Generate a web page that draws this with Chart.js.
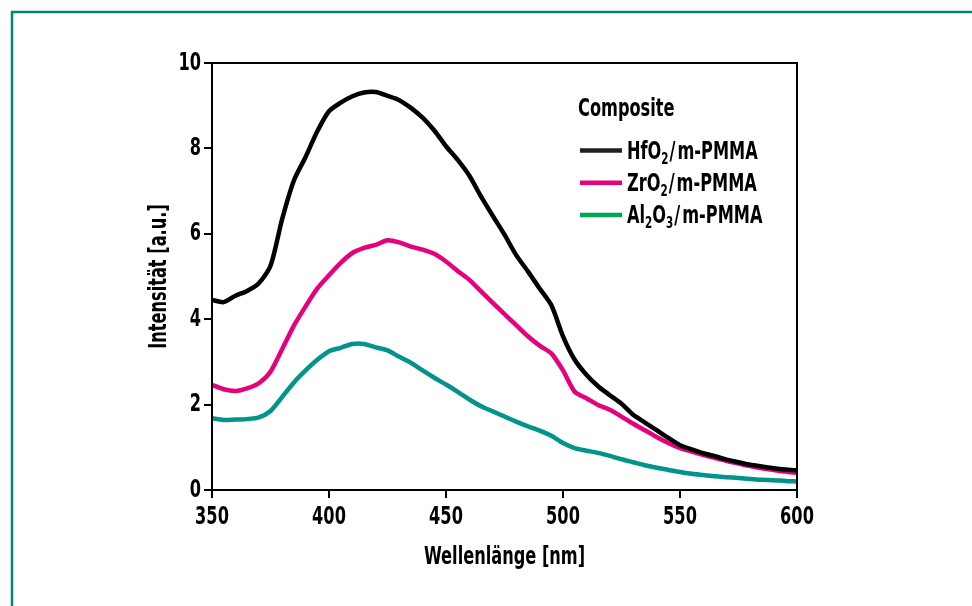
<!DOCTYPE html>
<html><head><meta charset="utf-8">
<script src="https://cdn.jsdelivr.net/npm/chart.js@4/dist/chart.umd.min.js"></script>
<style>html,body{margin:0;padding:0;background:#fff;}canvas{display:block;}</style>
</head><body>
<canvas id="c" width="972" height="606"></canvas>
<script>
// ---- data ----
const wavelengths = [350,355,360,365,370,375,380,385,390,395,400,405,410,415,420,425,430,435,440,445,450,455,460,465,470,475,480,485,490,495,500,505,510,515,520,525,530,535,540,545,550,555,560,565,570,575,580,585,590,595,600];
const hfo2 = [4.45,4.40,4.55,4.66,4.84,5.25,6.35,7.25,7.80,8.40,8.87,9.07,9.22,9.31,9.32,9.23,9.13,8.95,8.72,8.42,8.05,7.73,7.36,6.87,6.42,5.98,5.50,5.12,4.72,4.33,3.60,3.05,2.70,2.43,2.22,2.02,1.76,1.58,1.40,1.22,1.05,0.95,0.86,0.79,0.71,0.65,0.59,0.55,0.51,0.48,0.46];
const zro2 = [2.46,2.36,2.32,2.38,2.50,2.77,3.30,3.85,4.30,4.72,5.03,5.32,5.55,5.67,5.74,5.85,5.80,5.70,5.63,5.53,5.35,5.13,4.92,4.65,4.38,4.12,3.86,3.60,3.38,3.20,2.80,2.30,2.15,1.99,1.88,1.72,1.55,1.40,1.24,1.10,0.98,0.90,0.82,0.75,0.68,0.62,0.56,0.51,0.47,0.43,0.40];
const al2o3 = [1.68,1.64,1.65,1.66,1.70,1.85,2.18,2.52,2.80,3.05,3.25,3.33,3.42,3.42,3.34,3.27,3.12,2.98,2.80,2.63,2.47,2.30,2.12,1.96,1.84,1.72,1.60,1.49,1.39,1.27,1.10,0.98,0.92,0.87,0.80,0.72,0.65,0.58,0.52,0.47,0.42,0.38,0.35,0.32,0.30,0.28,0.26,0.24,0.23,0.21,0.20];
const seriesLabels = ['HfO₂/m-PMMA','ZrO₂/m-PMMA','Al₂O₃/m-PMMA'];
const legendTitle = 'Composite';
const xTitle = 'Wellenlänge [nm]';
const yTitle = 'Intensität [a.u.]';
const xTicks = [350,400,450,500,550,600];
const yTicks = [0,2,4,6,8,10];

// ---- styling ----
const FONT = '"Liberation Sans Narrow", "DejaVu Sans Condensed", "DejaVu Sans", sans-serif';
const SX = 0.72; // horizontal condensing of all text (reference uses a condensed face)
const lineColors = ['#000000','#e6007e','#00948a'];
const legendColors = ['#231f20','#e6007e','#00a651'];

Chart.defaults.font.family = FONT;
Chart.defaults.color = '#000';

const toPts = arr => wavelengths.map((w,i)=>({x:w,y:arr[i]}));

const condense = {
  id:'condense',
  beforeInit(chart){
    const c = chart.ctx;
    const orig = c.fillText.bind(c);
    c.fillText = function(t, x, y){
      c.save(); c.translate(x, y); c.scale(SX, 1); orig(t, 0, 0); c.restore();
    };
  }
};

const frame = {
  id:'frame',
  beforeDraw(chart){
    const c = chart.ctx;
    c.save();
    c.fillStyle='#fff'; c.fillRect(0,0,chart.width,chart.height);
    c.strokeStyle='#0e7f6c'; c.lineWidth=2.5;
    c.beginPath(); c.moveTo(12,chart.height); c.lineTo(12,12); c.lineTo(chart.width,12); c.stroke();
    c.restore();
  },
  afterDraw(chart){
    const a = chart.chartArea, c = chart.ctx;
    c.save(); c.strokeStyle='#000'; c.lineWidth=2;
    c.strokeRect(a.left, a.top, a.right-a.left, a.bottom-a.top);
    c.restore();
  }
};

const SUB = {'₀':'0','₁':'1','₂':'2','₃':'3','₄':'4'};
function drawRich(c, text, x, y, size){
  for (const ch of text){
    if (SUB[ch]){
      c.font = 'bold '+Math.round(size*0.62)+'px '+FONT;
      c.fillText(SUB[ch], x, y+5);
      x += c.measureText(SUB[ch]).width*SX;
    } else {
      c.font = 'bold '+size+'px '+FONT;
      if (ch==='/') { x += 1; c.fillText(ch,x,y); x += c.measureText(ch).width*SX+2; }
      else { c.fillText(ch, x, y); x += c.measureText(ch).width*SX; }
    }
  }
}

const insideLegend = {
  id:'insideLegend',
  afterDraw(chart){
    const c = chart.ctx;
    c.save();
    c.fillStyle='#000'; c.textBaseline='alphabetic'; c.textAlign='left';
    c.font = 'bold 25px '+FONT;
    c.fillText(legendTitle, 578, 116);
    chart.data.datasets.forEach((ds,i)=>{
      const y = 150.5 + i*32.3;
      c.strokeStyle = legendColors[i]; c.lineWidth = 4.5;
      c.beginPath(); c.moveTo(580,y); c.lineTo(622,y); c.stroke();
      c.fillStyle='#000';
      drawRich(c, ds.label, 627, y+8, 25);
    });
    c.restore();
  }
};

new Chart(document.getElementById('c'), {
  type:'line',
  data:{
    datasets:[
      {label:seriesLabels[0], data:toPts(hfo2), borderColor:lineColors[0]},
      {label:seriesLabels[1], data:toPts(zro2), borderColor:lineColors[1]},
      {label:seriesLabels[2], data:toPts(al2o3), borderColor:lineColors[2]}
    ].map(d=>Object.assign(d,{borderWidth:4.5,pointRadius:0,tension:0.25,fill:false,borderJoinStyle:'round',borderCapStyle:'round'}))
  },
  options:{
    responsive:false, animation:false, devicePixelRatio:1,
    layout:{padding:{left:144, top:63, right:175, bottom:34}},
    plugins:{legend:{display:false}, tooltip:{enabled:false}},
    scales:{
      x:{type:'linear', min:350, max:600,
        afterBuildTicks:s=>{s.ticks = xTicks.map(v=>({value:v}));},
        afterFit:s=>{s.height=82;},
        grid:{drawOnChartArea:false, drawTicks:true, tickLength:8, color:'#000', lineWidth:2},
        border:{display:true,color:'#000',width:2},
        ticks:{font:{size:25,weight:'bold'}, color:'#000', padding:4, maxRotation:0},
        title:{display:true, text:xTitle, font:{size:25,weight:'bold'}, color:'#000', padding:0}
      },
      y:{min:0, max:10,
        afterBuildTicks:s=>{s.ticks = yTicks.map(v=>({value:v}));},
        afterFit:s=>{s.width=68;},
        grid:{drawOnChartArea:false, drawTicks:true, tickLength:8, color:'#000', lineWidth:2},
        border:{display:true,color:'#000',width:2},
        ticks:{font:{size:25,weight:'bold'}, color:'#000', padding:3},
        title:{display:true, text:yTitle, font:{size:25,weight:'bold'}, color:'#000', padding:0}
      }
    }
  },
  plugins:[condense, frame, insideLegend]
});
</script>
</body></html>
